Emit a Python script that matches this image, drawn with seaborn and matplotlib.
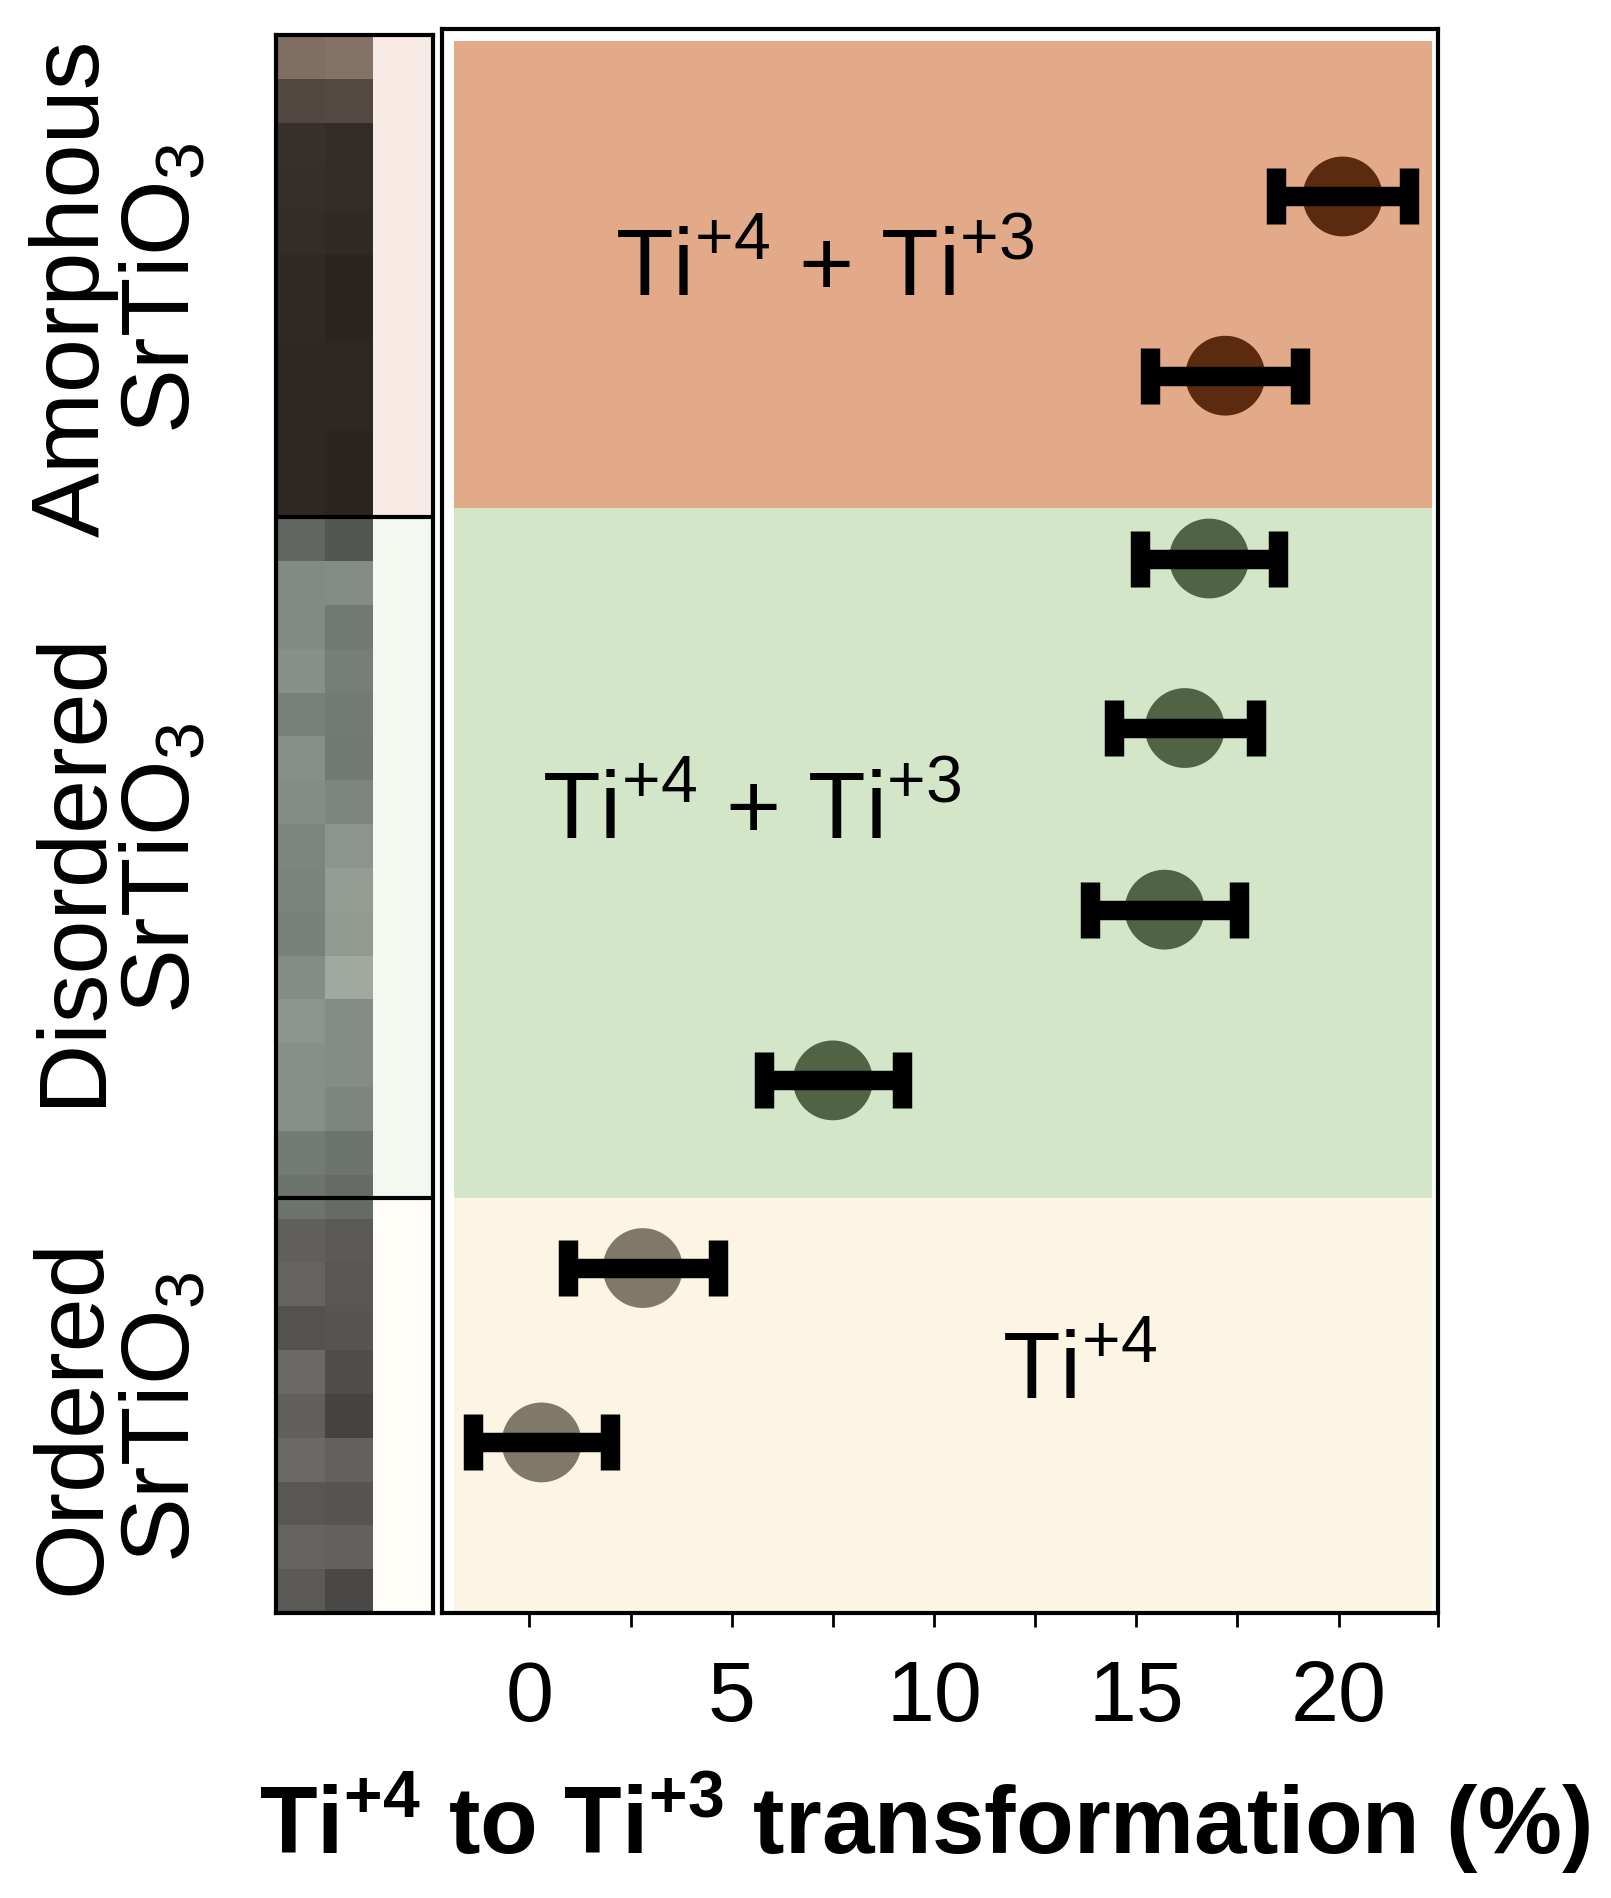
import numpy as np
import pandas as pd
import matplotlib
matplotlib.use("Agg")
import matplotlib.pyplot as plt
import seaborn as sns

sns.set_theme(style="white")
plt.rcParams['font.family'] = ['Liberation Sans', 'DejaVu Sans']
plt.rcParams['mathtext.fontset'] = 'custom'
plt.rcParams['mathtext.rm'] = 'Liberation Sans'
plt.rcParams['mathtext.bf'] = 'Liberation Sans:bold'
plt.rcParams['text.color'] = 'black'
plt.rcParams['xtick.color'] = 'black'
plt.rcParams['axes.labelcolor'] = 'black'

# data
values = [20.1, 17.2, 16.8, 16.2, 15.7, 7.5, 2.8, 0.3]
errors = [1.65, 1.85, 1.7, 1.75, 1.85, 1.7, 1.85, 1.7]
ypos = [163, 311, 462, 602, 752, 893, 1048, 1192]
groups = ["Amorphous", "Amorphous", "Disordered", "Disordered", "Disordered", "Disordered", "Ordered", "Ordered"]
group_colors = {"Amorphous": "#5c2a0e", "Disordered": "#506345", "Ordered": "#807868"}
band_names = ["Amorphous", "Disordered", "Ordered"]
band_edges = [35, 420, 990, 1333]
band_colors = ["#e2aa88", "#d4e6c8", "#fdf5e4"]
tint_colors = ["#f8ebe5", "#f3f8f1", "#fffdf8"]
band_texts = [r"Ti$^{+4}$ + Ti$^{+3}$", r"Ti$^{+4}$ + Ti$^{+3}$", r"Ti$^{+4}$"]
band_text_pos = [(7.3, 225), (5.5, 673), (13.6, 1135)]
# strip grey levels (rows, two columns)
strip_left = [0.50, 0.32, 0.22, 0.21, 0.20, 0.19, 0.19, 0.18, 0.18, 0.18, 0.18,
              0.40, 0.54, 0.54, 0.56, 0.50, 0.56, 0.55, 0.52, 0.51, 0.50, 0.55, 0.58, 0.56, 0.56, 0.48, 0.45,
              0.38, 0.40, 0.33, 0.42, 0.38, 0.42, 0.35, 0.40, 0.36]
strip_right = [0.52, 0.33, 0.20, 0.20, 0.19, 0.17, 0.17, 0.18, 0.18, 0.17, 0.17,
               0.34, 0.55, 0.47, 0.49, 0.48, 0.47, 0.52, 0.58, 0.61, 0.60, 0.66, 0.55, 0.55, 0.52, 0.45, 0.42,
               0.36, 0.35, 0.34, 0.31, 0.27, 0.39, 0.34, 0.39, 0.29]
strip_tints = [(1.0, 0.86, 0.78)] * 11 + [(0.95, 1.0, 0.95)] * 16 + [(1.0, 0.98, 0.94)] * 9

W, H = 1611, 1899
fig = plt.figure(figsize=(W / 100, H / 100), dpi=100)

# strip axes
axs = fig.add_axes([0.1714, 0.150, 0.0976, 0.831])
n = len(strip_left)
axs.set_xlim(0, 130)
axs.set_ylim(1333, 30)
rows = np.linspace(30, 1333, n + 1)
for i in range(n):
    for j, v in enumerate([strip_left[i], strip_right[i]]):
        c = tuple(min(1.0, v * t) for t in strip_tints[i])
        axs.add_patch(plt.Rectangle((j * 40, rows[i]), 40, rows[i + 1] - rows[i], color=c, lw=0))
seg = [30, 428, 990, 1333]
for k in range(3):
    axs.add_patch(plt.Rectangle((80, seg[k]), 50, seg[k + 1] - seg[k], color=tint_colors[k], lw=0))
for yb in [428, 990]:
    axs.axhline(yb, color="black", lw=3)
axs.set_xticks([]); axs.set_yticks([])
for s in axs.spines.values():
    s.set_color("black"); s.set_linewidth(3)

# main axes
ax = fig.add_axes([0.2744, 0.150, 0.618, 0.834])
ax.set_xlim(-2.16, 22.45)
ax.set_ylim(1333, 25)
for k in range(3):
    ax.fill_between([-1.86, 22.3], band_edges[k], band_edges[k + 1], color=band_colors[k], lw=0, zorder=0)
    ax.text(band_text_pos[k][0], band_text_pos[k][1], band_texts[k], fontsize=68,
            ha="center", va="center", color="black")
df = pd.DataFrame({"value": values, "y": ypos, "group": groups})
sns.scatterplot(data=df, x="value", y="y", hue="group", palette=group_colors,
                s=3300, edgecolor="none", legend=False, ax=ax, zorder=2)
ax.errorbar(values, ypos, xerr=errors, fmt="none", ecolor="black", elinewidth=14,
            capsize=20, capthick=14, zorder=3)
ax.set_xticks([0, 5, 10, 15, 20])
ax.set_xticks([2.5, 7.5, 12.5, 17.5, 22.449], minor=True)
ax.set_yticks([])
ax.tick_params(axis="x", which="major", direction="out", length=10, width=2,
               labelsize=62, pad=22, bottom=True, labelcolor="black")
ax.tick_params(axis="x", which="minor", direction="out", length=10, width=2, bottom=True)
ax.set_xticklabels(["0", "5", "10", "15", "20"])
ax.set_xlabel(r"Ti$^{\mathbf{+4}}$ to Ti$^{\mathbf{+3}}$ transformation (%)", fontsize=68,
              fontweight="bold", color="black")
ax.xaxis.set_label_coords(0.485, -0.098)
ax.set_ylabel("")
for s in ax.spines.values():
    s.set_color("black"); s.set_linewidth(3)

# group labels
label_y = [0.981 - (0.831 * (238 - 30) / 1303), 0.981 - 0.831 * (717 - 30) / 1303,
           0.981 - 0.831 * (1170 - 30) / 1303]
for name, yy in zip(band_names, label_y):
    fig.text(0.074, yy, name + "\n" + r"SrTiO$_3$", rotation=90, fontsize=70,
             ha="center", va="center", linespacing=1.0, color="black")

fig.savefig("out.png", dpi=100)
